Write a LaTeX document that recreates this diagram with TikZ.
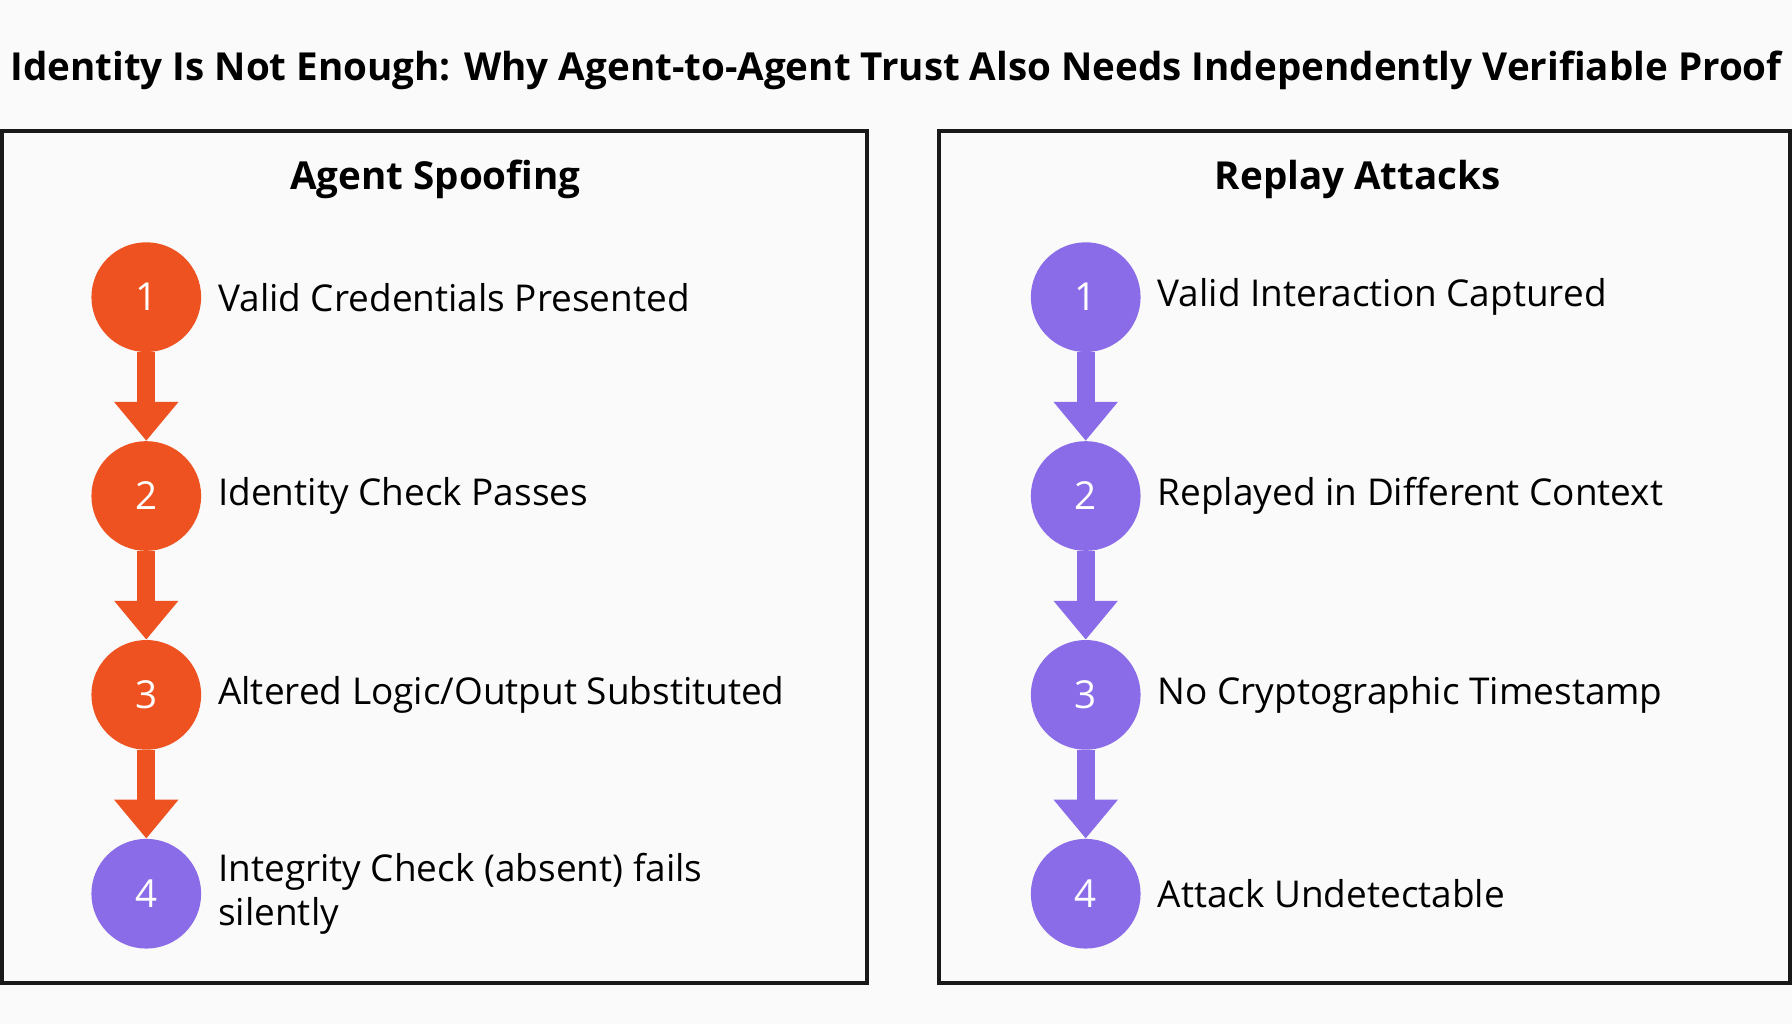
\documentclass[tikz,border=0pt]{standalone}
\usepackage{fontspec}
\setmainfont{Open Sans}
\usetikzlibrary{arrows.meta}
\definecolor{spoof}{HTML}{EE5220}
\definecolor{replay}{HTML}{8B6CE8}
\definecolor{paper}{HTML}{FAFAFA}
\tikzset{
  panel/.style = {draw = black!90, line width = 0.9mm},
  stepdot/.style = {circle, minimum size = 24mm, inner sep = 0pt, text = white, font = \fontsize{24}{28}\selectfont},
  steptext/.style = {anchor = west, align = left, font = \fontsize{23}{27}\selectfont},
  head/.style = {font = \bfseries\fontsize{24}{28}\selectfont},
  flow/.style = {line width = 4mm, -{Triangle[width = 13.5mm, length = 8.5mm]}}
}
\begin{document}
\begin{tikzpicture}[x = 0.25mm, y = -0.25mm]
	\fill[paper] (0,0) rectangle (1568,896);
	\useasboundingbox (0,0) rectangle (1568,896);
	\node[head] (title) at (784,62) {Identity Is Not Enough: Why Agent-to-Agent Trust Also Needs Independently Verifiable Proof};
	% left panel
	\draw[panel] (2,115) rectangle (759,860);
	\node[head] (spoofhead) at (381,157) {Agent Spoofing};
	\foreach \n/\y/\c/\t in {1/260/spoof/{Valid Credentials Presented},
		2/434/spoof/{Identity Check Passes},
		3/608/spoof/{Altered Logic/Output Substituted},
		4/782/replay/{Integrity Check (absent) fails\\silently}}
	{
		\node[stepdot, fill = \c] (L\n) at (128,\y) {\n};
		\node[steptext] (Lt\n) at (186,\y) {\t};
	}
	\foreach \a/\b in {1/2, 2/3, 3/4}
		\draw[flow, spoof] (L\a.south) -- (L\b.north);
	% right panel
	\draw[panel] (822,115) rectangle (1566,860);
	\node[head] (replayhead) at (1188,157) {Replay Attacks};
	\foreach \n/\y/\t in {1/260/{Valid Interaction Captured},
		2/434/{Replayed in Different Context},
		3/608/{No Cryptographic Timestamp},
		4/782/{Attack Undetectable}}
	{
		\node[stepdot, fill = replay] (R\n) at (950,\y) {\n};
		\node[steptext] (Rt\n) at (1008,\y) {\t};
	}
	\foreach \a/\b in {1/2, 2/3, 3/4}
		\draw[flow, replay] (R\a.south) -- (R\b.north);
\end{tikzpicture}
\end{document}
